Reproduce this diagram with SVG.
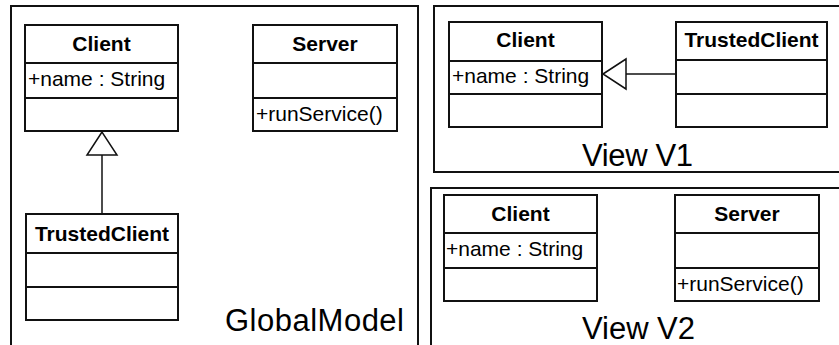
<svg xmlns="http://www.w3.org/2000/svg" width="839" height="345" viewBox="0 0 839 345">
<style>
.frame{fill:none;stroke:#111;stroke-width:2}
.box{fill:#fff;stroke:#111;stroke-width:2}
.sep{stroke:#111;stroke-width:2}
.title{font-family:"Liberation Sans",Arial,sans-serif;font-weight:bold;font-size:21px;fill:#000;text-anchor:middle}
.attr{font-family:"Liberation Sans",Arial,sans-serif;font-size:21px;fill:#000}
.label{font-family:"Liberation Sans",Arial,sans-serif;font-size:31px;fill:#000}
.conn{stroke:#111;stroke-width:1.5;fill:none}
.tri{fill:#fff;stroke:#111;stroke-width:1.5}
</style>
<rect width="839" height="345" fill="#fff"/>
<g id="frame-global">
<rect class="frame" x="11" y="6" width="407" height="350"/>
<text class="label" x="225" y="331" textLength="179">GlobalModel</text>
</g>
<g id="frame-v1">
<rect class="frame" x="434" y="6" width="420" height="166"/>
<text class="label" x="582" y="166" textLength="111">View V1</text>
</g>
<g id="frame-v2">
<rect class="frame" x="431" y="188" width="420" height="170"/>
<text class="label" x="582" y="339" textLength="113">View V2</text>
</g>
<g id="connectors">
<line class="conn" x1="102" y1="155" x2="102" y2="214"/>
<polygon class="tri" points="102,132 87,155 117,155"/>
<line class="conn" x1="626" y1="74" x2="676" y2="74"/>
<polygon class="tri" points="603,74 626,59 626,89"/>
</g>
<g id="g-client">
<rect class="box" x="25" y="25" width="153" height="106"/>
<line class="sep" x1="25" y1="63" x2="178" y2="63"/>
<line class="sep" x1="25" y1="98" x2="178" y2="98"/>
<text class="title" x="101.5" y="51">Client</text>
<text class="attr" x="28" y="86">+name : String</text>
</g>
<g id="g-server">
<rect class="box" x="253" y="25" width="144" height="106"/>
<line class="sep" x1="253" y1="63" x2="397" y2="63"/>
<line class="sep" x1="253" y1="98" x2="397" y2="98"/>
<text class="title" x="325" y="51">Server</text>
<text class="attr" x="256" y="121">+runService()</text>
</g>
<g id="g-trusted">
<rect class="box" x="26" y="214" width="152" height="106"/>
<line class="sep" x1="26" y1="253" x2="178" y2="253"/>
<line class="sep" x1="26" y1="287" x2="178" y2="287"/>
<text class="title" x="102" y="241">TrustedClient</text>
</g>
<g id="v1-client">
<rect class="box" x="449" y="22" width="153" height="105"/>
<line class="sep" x1="449" y1="61" x2="602" y2="61"/>
<line class="sep" x1="449" y1="94" x2="602" y2="94"/>
<text class="title" x="525.5" y="47">Client</text>
<text class="attr" x="452" y="83">+name : String</text>
</g>
<g id="v1-trusted">
<rect class="box" x="676" y="22" width="151" height="105"/>
<line class="sep" x1="676" y1="60" x2="827" y2="60"/>
<line class="sep" x1="676" y1="94" x2="827" y2="94"/>
<text class="title" x="751.5" y="47">TrustedClient</text>
</g>
<g id="v2-client">
<rect class="box" x="444" y="195" width="153" height="106"/>
<line class="sep" x1="444" y1="233" x2="597" y2="233"/>
<line class="sep" x1="444" y1="268" x2="597" y2="268"/>
<text class="title" x="520.5" y="221">Client</text>
<text class="attr" x="446" y="256">+name : String</text>
</g>
<g id="v2-server">
<rect class="box" x="675" y="195" width="144" height="106"/>
<line class="sep" x1="675" y1="233" x2="819" y2="233"/>
<line class="sep" x1="675" y1="268" x2="819" y2="268"/>
<text class="title" x="747" y="221">Server</text>
<text class="attr" x="677" y="291">+runService()</text>
</g>
</svg>
